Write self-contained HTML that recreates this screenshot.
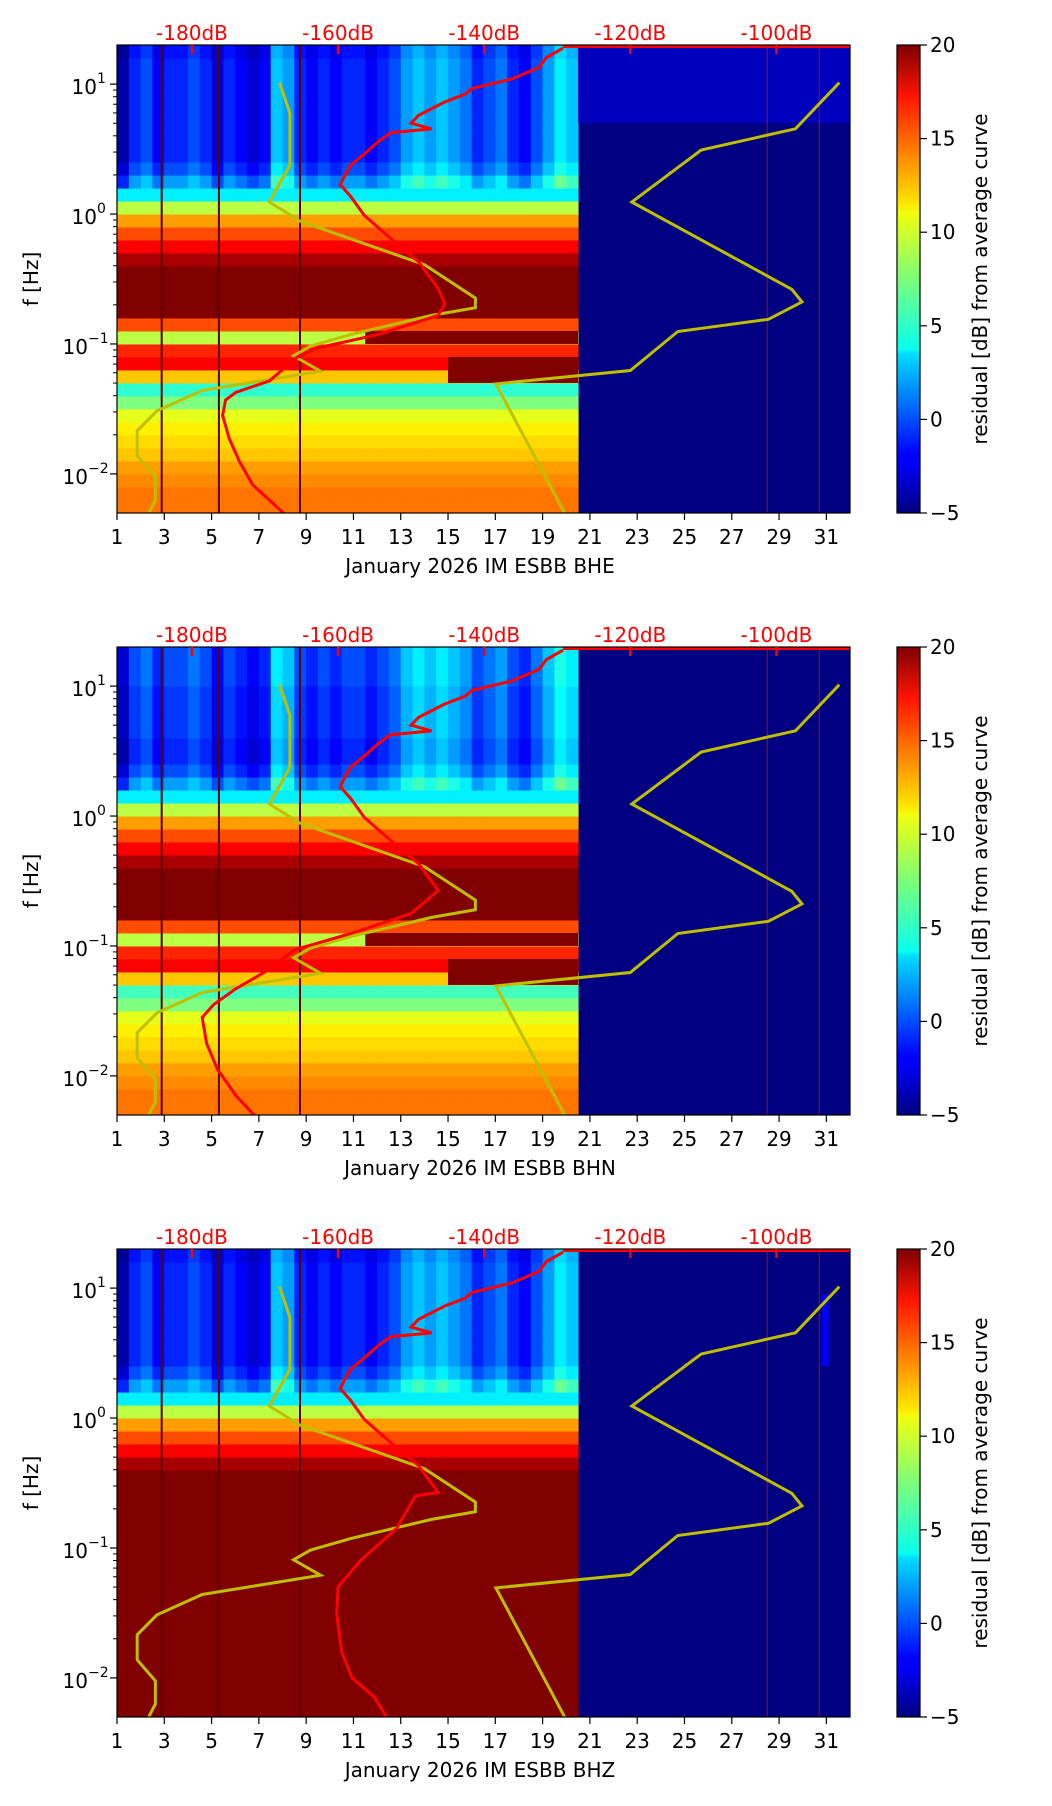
<!DOCTYPE html>
<html><head><meta charset="utf-8"><title>ESBB spectrograms</title>
<style>html,body{margin:0;padding:0;background:#fff}svg{display:block}text{font-family:"DejaVu Sans","Liberation Sans",sans-serif}</style>
</head><body>
<svg id="chart" xmlns="http://www.w3.org/2000/svg" width="1052" height="1806" viewBox="0 0 1052 1806">
<defs>
<linearGradient id="jet" x1="0" y1="1" x2="0" y2="0">
<stop offset="0" stop-color="#00007f"/><stop offset="0.11" stop-color="#0000ff"/><stop offset="0.125" stop-color="#0000ff"/><stop offset="0.34" stop-color="#00ddff"/><stop offset="0.35" stop-color="#07ffef"/><stop offset="0.5" stop-color="#7cff79"/><stop offset="0.64" stop-color="#f0ff0d"/><stop offset="0.66" stop-color="#ffe600"/><stop offset="0.89" stop-color="#ff1400"/><stop offset="1" stop-color="#7f0000"/>
</linearGradient>
</defs>
</svg>
<script>
// ---------- data ----------
const channels = ["BHE", "BHN", "BHZ"];
const dayTicks = [1,3,5,7,9,11,13,15,17,19,21,23,25,27,29,31];
const dbTicks = [-180,-160,-140,-120,-100];
const cbTicks = [-5,0,5,10,15,20];
const yDecades = [-2,-1,0,1];
// spectrogram rows: logF centers from -2.25 to 1.25 step 0.1
const rowLogF = [-2.25,-2.15,-2.05,-1.95,-1.85,-1.75,-1.65,-1.55,-1.45,-1.35,-1.25,-1.15,-1.05,-0.95,-0.85,-0.75,-0.65,-0.55,-0.45,-0.35,-0.25,-0.15,-0.05,0.05,0.15,0.25,0.35,0.45,0.55,0.65,0.75,0.85,0.95,1.05,1.15,1.25];
const baseBHE = [14,14,13.5,13,12,11.5,11,10,7.5,5.5,12,17,16,9,15,20,20,20,20,19,17,15,13,9,4,0,-2,-3,-3,-3,-3,-3,-3,-3,-3,-3.5];
const baseBHN = [14,14,13.5,13,12,11.5,11,10,7.5,6,12,17,16,9,15,20,20,20,20,19,17,15,13,9,4,0,-2,-3,-3,-2.5,-2.5,-2.5,-2.5,-2,-2,-2];
const baseBHZ = [20,20,20,20,20,20,20,20,20,20,20,20,20,20,20,20,20,20,20,19,17,15,13,9,4,0,-2,-3,-3,-3,-3,-3,-3,-3,-3,-3.5];
// column stripes (0.5 day bins, day 1.0 .. 20.0)
const colDays = [1,1.5,2,2.5,3,3.5,4,4.5,5,5.5,6,6.5,7,7.5,8,8.5,9,9.5,10,10.5,11,11.5,12,12.5,13,13.5,14,14.5,15,15.5,16,16.5,17,17.5,18,18.5,19,19.5,20];
const hiMod = [-1,2,3,1,2,2,3,2,0,2,1,0,1,6,5,2,1,2,1,2,2,1,2,3,5,6,5,6,5,4,2,3,4,2,1,3,5,7,6];
// events: [dayStart, dayEnd, logLo, logHi, value]
const eventsBHE = [[11.5,20.5,-1.0,-0.9,20],[15,20.5,-1.3,-1.1,20],[20.5,32,0.7,1.31,-3.5]];
const eventsBHN = [[11.5,20.5,-1.0,-0.9,20],[15,20.5,-1.3,-1.1,20]];
const eventsBHZ = [[30.8,31.1,0.4,0.95,-2]];
// noise model curves (dB, log10 f)
const nlnmDb = [-186.1,-185.0,-185.0,-187.5,-187.5,-184.8,-178.6,-162.4,-166.1,-163.8,-158.3,-147.2,-141.2,-141.2,-148.2,-165.2,-169.4,-166.6,-166.6,-168.0];
const nlnmLogF = [-2.32,-2.201,-2.023,-1.861,-1.668,-1.515,-1.358,-1.210,-1.091,-1.017,-0.928,-0.780,-0.721,-0.647,-0.389,-0.055,0.093,0.374,0.774,1.011];
const nhnmDb = [-91.4,-97.4,-110.3,-119.8,-97.9,-96.5,-101.1,-113.5,-120.0,-138.4,-128.8];
const nhnmLogF = [1.011,0.656,0.493,0.093,-0.579,-0.676,-0.810,-0.904,-1.204,-1.307,-2.32];
// mean PSD curves
const redTopDb = [-129.2,-131.5,-132.5,-136.2,-141.7,-142.6,-145.4,-149.0,-150.0,-147.2,-152.8,-154.6,-156.4,-158.3,-159.2,-159.7,-158.3,-156.4,-152.8,-149.0,-146.3];
const redTopLogF = [1.277,1.203,1.129,1.040,0.966,0.922,0.862,0.759,0.700,0.655,0.626,0.552,0.463,0.374,0.285,0.226,0.137,-0.011,-0.188,-0.366,-0.573];
const redLowDbBHE = [-145.4,-146.3,-154.6,-162.9,-165.7,-169.4,-174.0,-175.4,-175.8,-174.9,-173.5,-171.7,-167.1];
const redLowLogFBHE = [-0.692,-0.780,-0.929,-1.032,-1.106,-1.284,-1.373,-1.432,-1.550,-1.728,-1.905,-2.083,-2.320];
const redLowDbBHN = [-150,-158,-166,-170,-174,-177,-178.6,-178,-176.5,-174,-171.2];
const redLowLogFBHN = [-0.75,-0.9,-1.03,-1.2,-1.33,-1.45,-1.55,-1.75,-1.95,-2.15,-2.32];
const redLowDbBHZ = [-149.4,-152,-157,-160,-160.2,-159.5,-158.1,-155,-153.4];
const redLowLogFBHZ = [-0.6,-0.85,-1.1,-1.3,-1.5,-1.8,-2.0,-2.15,-2.3];
const darkLineDays = [2.89,5.31,8.74];
const redLineDays = [28.5,30.7];

// ---------- geometry ----------
const NS="http://www.w3.org/2000/svg";
const svg=document.getElementById('chart');
const L=117,R=850,H=468,tops=[45,647,1249];
const LMAX=Math.log10(20),LMIN=Math.log10(0.005);
const xDay=d=>L+(d-1)/31*(R-L);
const xDb=db=>xDay(4.17+(db+180)/20*6.18);
const yL=(top,lf)=>top+(LMAX-lf)/(LMAX-LMIN)*H;
function el(tag,attrs,parent){const e=document.createElementNS(NS,tag);for(const k in attrs)e.setAttribute(k,attrs[k]);(parent||svg).appendChild(e);return e;}
function jet(v){let t=(v+5)/25;t=Math.max(0,Math.min(1,t));
 const r=Math.max(0,Math.min(1,1.5-Math.abs(4*t-3))),g=Math.max(0,Math.min(1,1.5-Math.abs(4*t-2))),b=Math.max(0,Math.min(1,1.5-Math.abs(4*t-1)));
 return `rgb(${Math.round(r*255)},${Math.round(g*255)},${Math.round(b*255)})`;}
const bases=[baseBHE,baseBHN,baseBHZ];
const events=[eventsBHE,eventsBHN,eventsBHZ];
const redLowDb=[redLowDbBHE,redLowDbBHN,redLowDbBHZ];
const redLowLogF=[redLowLogFBHE,redLowLogFBHN,redLowLogFBHZ];
const FS=20;

tops.forEach((top,p)=>{
 const g=el('g',{});
 
 
 const clip=el('clipPath',{id:'clip'+p},g);el('rect',{x:L,y:top,width:R-L,height:H},clip);
 const hm=el('g',{'clip-path':`url(#clip${p})`},g);
 
 
 const bg=el('rect',{x:xDay(20.5),y:top,width:R-xDay(20.5),height:H,fill:jet(-5)},hm);
 
 
 const rh=H/(LMAX-LMIN)*0.1;
 rowLogF.forEach((lf,r)=>{
  colDays.forEach((d,c)=>{
   let v=bases[p][r]+(lf>=0.2?hiMod[c]:0);
   const cell=el('rect',{x:xDay(d),y:yL(top,lf+0.05),width:xDay(d+0.5)-xDay(d)+0.5,height:rh+0.5,fill:jet(v)},hm);
   
   
  });
 });
 events[p].forEach(ev=>{
  const r=el('rect',{x:xDay(ev[0]),y:yL(top,ev[3]),width:xDay(ev[1])-xDay(ev[0]),height:yL(top,ev[2])-yL(top,ev[3]),fill:jet(ev[4])},hm);
  
  
 });
 darkLineDays.forEach(d=>{const l=el('line',{x1:xDay(d),x2:xDay(d),y1:top,y2:top+H,stroke:'#5a0000','stroke-width':2},hm);
  });
 redLineDays.forEach(d=>{const l=el('line',{x1:xDay(d),x2:xDay(d),y1:top,y2:top+H,stroke:'#a01010','stroke-width':1},hm);
  });
 const pts=(dbs,lfs)=>dbs.map((db,i)=>xDb(db).toFixed(1)+','+yL(top,lfs[i]).toFixed(1)).join(' ');
 const n1=el('polyline',{points:pts(nlnmDb,nlnmLogF),fill:'none',stroke:'#bfbf00','stroke-width':3},hm);
 
 const n2=el('polyline',{points:pts(nhnmDb,nhnmLogF),fill:'none',stroke:'#bfbf00','stroke-width':3},hm);
 
 const rc=el('polyline',{points:pts(redTopDb.concat(redLowDb[p]),redTopLogF.concat(redLowLogF[p])),fill:'none',stroke:'#ff0000','stroke-width':3},hm);
 
 const tl=el('line',{x1:xDb(-129.2),x2:R,y1:top+1.5,y2:top+1.5,stroke:'#ff0000','stroke-width':3},hm);
 
 const fr=el('rect',{x:L,y:top,width:R-L,height:H,fill:'none',stroke:'#000','stroke-width':1.2},g);
 
 dayTicks.forEach(d=>{const x=xDay(d);el('line',{x1:x,x2:x,y1:top+H,y2:top+H+7,stroke:'#000','stroke-width':1.2},g);
  const t=el('text',{x:x,y:top+H+31,'font-size':FS,'text-anchor':'middle'},g);t.textContent=d;
  });
 const xl=el('text',{x:480,y:top+H+60,'font-size':FS,'text-anchor':'middle'},g);
 xl.textContent='January 2026 IM ESBB  '+channels[p];
 
 dbTicks.forEach(db=>{const x=xDb(db);el('line',{x1:x,x2:x,y1:top,y2:top+9,stroke:'#ff0000','stroke-width':2.5},g);
  const t=el('text',{x:x,y:top-5,'font-size':FS,'text-anchor':'middle',fill:'#ff0000'},g);t.textContent=db+'dB';
  });
 yDecades.forEach(dec=>{const y=yL(top,dec);el('line',{x1:L-7,x2:L,y1:y,y2:y,stroke:'#000','stroke-width':1.2},g);
  const expW=dec<0?19:10;
  const t=el('text',{x:L-10-expW,y:y+10,'font-size':FS,'text-anchor':'end'},g);t.textContent='10';
  
  const s=el('text',{x:L-10-expW,y:y-1,'font-size':14,'text-anchor':'start'},g);s.textContent=String(dec).replace('-','\u2212');
  
  for(let m=2;m<10;m++){const lf=dec+Math.log10(m);if(lf<LMAX&&lf>LMIN){const ym=yL(top,lf);el('line',{x1:L-4,x2:L,y1:ym,y2:ym,stroke:'#000'},g);}}
 });
 const yt=el('text',{x:0,y:0,'font-size':FS,'text-anchor':'middle',transform:`translate(38 ${top+H/2}) rotate(-90)`},g);
 yt.textContent='f [Hz]';
 const cbx=897,cbw=23;
 const cb=el('rect',{x:cbx,y:top,width:cbw,height:H,fill:'url(#jet)',stroke:'#000','stroke-width':1.2},g);
 
 cbTicks.forEach(v=>{const y=top+H-(v+5)/25*H;el('line',{x1:cbx+cbw,x2:cbx+cbw+7,y1:y,y2:y,stroke:'#000','stroke-width':1.2},g);
  const t=el('text',{x:cbx+cbw+10,y:y+7,'font-size':FS},g);t.textContent=String(v).replace('-','\u2212');
  });
 const ct=el('text',{x:0,y:0,'font-size':FS,'text-anchor':'middle',transform:`translate(987 ${top+H/2}) rotate(-90)`},g);
 ct.textContent='residual [dB] from average curve';
});
</script>
</body></html>
